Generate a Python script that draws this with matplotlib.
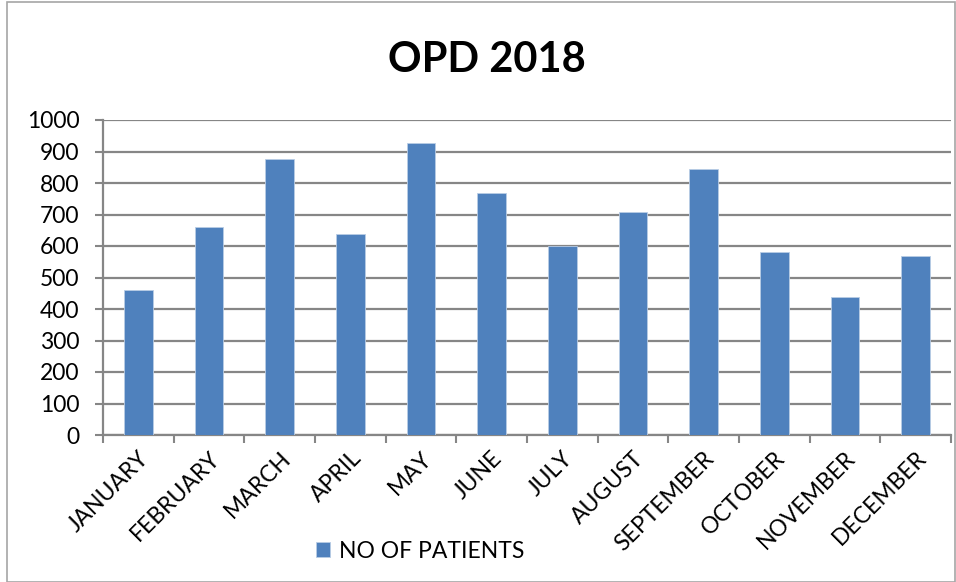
import matplotlib.pyplot as plt
from matplotlib.patches import Rectangle
import numpy as np

months = ["JANUARY", "FEBRUARY", "MARCH", "APRIL", "MAY", "JUNE",
          "JULY", "AUGUST", "SEPTEMBER", "OCTOBER", "NOVEMBER", "DECEMBER"]
patients = [460, 661, 875, 637, 926, 767, 600, 708, 844, 581, 439, 568]
y_ticks = list(range(0, 1001, 100))

plt.rcParams["font.family"] = ["Lato", "DejaVu Sans"]

fig = plt.figure(figsize=(9.56, 5.82), dpi=100)
ax = fig.add_axes([103 / 956, 1 - 435 / 582, 848 / 956, 315 / 582])

x = np.arange(len(months))
ax.bar(x, patients, width=0.41, color="#4F81BD", edgecolor="#B9CDE5",
       linewidth=0.6, zorder=3, label="NO OF PATIENTS")

ax.set_xlim(-0.5, len(months) - 0.5)
ax.set_ylim(0, 1000)
ax.set_yticks(y_ticks)
ax.set_yticklabels([str(v) for v in y_ticks], fontsize=16.5)
ax.yaxis.grid(True, color="#868686", linewidth=1.6, zorder=0)

# ticks sit on the category boundaries, labels on the centres
ax.set_xticks(np.arange(-0.5, len(months), 1.0))
ax.set_xticklabels([])
ax.set_xticks(x, minor=True)
ax.set_xticklabels(months, minor=True, rotation=45, ha="right",
                   rotation_mode="anchor", fontsize=16.5)
ax.tick_params(axis="x", which="minor", length=0, pad=9)
ax.tick_params(axis="x", which="major", length=6, color="#868686", width=1.5)
ax.tick_params(axis="y", length=6, color="#868686", width=1.5, pad=11)

for s in ["top", "right"]:
    ax.spines[s].set_visible(False)
for s in ["left", "bottom"]:
    ax.spines[s].set_color("#868686")
    ax.spines[s].set_linewidth(1.6)

fig.text(487 / 956, 1 - 60 / 582, "OPD 2018", fontsize=30, fontweight="bold",
         ha="center", va="center")

fig.legend(loc="center", bbox_to_anchor=(420 / 956, 1 - 551 / 582),
           frameon=False, fontsize=16.5, handlelength=0.6, handleheight=0.6,
           handletextpad=0.4)

fig.patches.append(Rectangle((7 / 956, 0), 948 / 956, 1 - 2 / 582,
                             transform=fig.transFigure, fill=False,
                             edgecolor="#A6A6A6", linewidth=1.2))

fig.savefig("out.png", dpi=100)
